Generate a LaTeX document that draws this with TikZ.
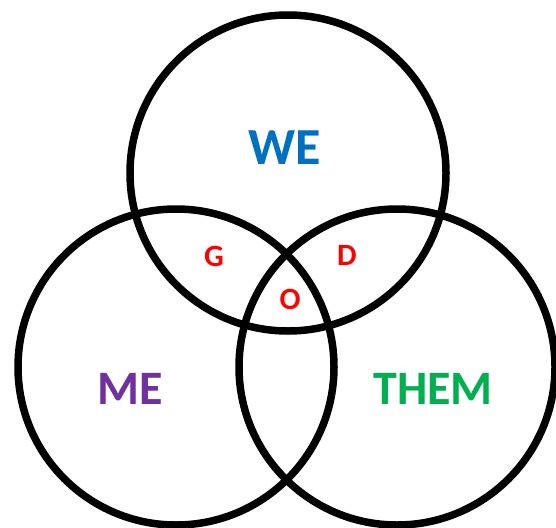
\documentclass[tikz,border=0pt]{standalone}
\usepackage{fontspec}
\setmainfont{Carlito}
\usetikzlibrary{positioning}
\definecolor{myblue}{RGB}{0,112,192}
\definecolor{mypurple}{RGB}{112,48,160}
\definecolor{mygreen}{RGB}{0,176,80}
\definecolor{myred}{RGB}{255,0,0}
\tikzset{
  ring/.style={circle, draw=black, line width=7.5pt, minimum size=316pt, inner sep=0pt},
  setlbl/.style={font=\fontsize{48}{48}\selectfont\bfseries, inner sep=0pt},
  zonelbl/.style={font=\fontsize{31}{31}\selectfont\bfseries, text=myred, inner sep=0pt}
}

\begin{document}
\begin{tikzpicture}[x=1pt, y=-1pt]
\useasboundingbox (0,0) rectangle (556,527);
\foreach \nm/\cx/\cy in {cwe/288/173, cme/176/367, cthem/397/367} {
  \node[ring] (\nm) at (\cx,\cy) {};
}
\node[setlbl, text=myblue, font=\fontsize{52}{52}\selectfont\bfseries] (we) at (285,148) {WE};
\node[setlbl, text=mypurple] (me) at (130,389) {ME};
\node[setlbl, text=mygreen] (them) at (433,389) {THEM};
\node[zonelbl] (g) at (214,256) {G};
\node[zonelbl] (d) at (347,255) {D};
\node[zonelbl] (o) at (290,299) {O};
\end{tikzpicture}
\end{document}
